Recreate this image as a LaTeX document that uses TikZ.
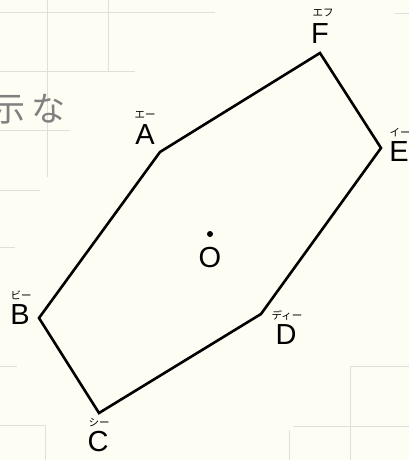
\documentclass[tikz,border=0pt]{standalone}
\usepackage{fontspec}
\setmainfont{Liberation Sans}
\newfontfamily\jpfont{Noto Sans CJK JP}
\usepackage{tikz}
\usetikzlibrary{positioning}
\definecolor{paper}{HTML}{FDFDF3}
\definecolor{guidegray}{HTML}{E0E0D8}
\definecolor{pencil}{HTML}{808080}

\begin{document}
\begin{tikzpicture}[x=1pt, y=-1pt,
        vertex/.style={font=\fontsize{29}{29}\selectfont, inner sep=0pt},
        ruby/.style={font=\jpfont\fontsize{10.5}{10.5}\selectfont, inner sep=0pt},
        edge/.style={line width=2.6pt, line join=miter},
        guide/.style={guidegray, line width=0.6pt},
        centre/.style={circle, fill=black, inner sep=0pt, minimum size=6pt}
    ]
        % Papier
        \fill[paper] (0,0) rectangle (409,460);
        \useasboundingbox (0,0) rectangle (409,460);

        % Hilfslinien
        \draw[guide] (0,12) -- (215,12);
        \draw[guide] (0,71) -- (135,71);
        \draw[guide] (0,130) -- (70,130);
        \draw[guide] (0,190) -- (40,190);
        \draw[guide] (47,0) -- (47,177);
        \draw[guide] (108,0) -- (108,72);
        \draw[guide] (395,13) -- (409,13);
        \draw[guide] (0,247) -- (15,247);
        \draw[guide] (0,366) -- (17,366);
        \draw[guide] (0,425) -- (45,425);
        \draw[guide] (45,425) -- (45,460);
        \draw[guide] (350,366) -- (409,366);
        \draw[guide] (293,426) -- (409,426);
        \draw[guide] (350,366) -- (350,460);
        \draw[guide] (289,430) -- (289,460);

        % Notiz
        \node[font=\jpfont\fontsize{34}{34}\selectfont, text=pencil, anchor=east, inner sep=0pt] (note) at (66,109) {示\kern6pt な};

        % Ecken
        \coordinate (a) at (160,152);
        \coordinate (b) at (39,318);
        \coordinate (c) at (99,413);
        \coordinate (d) at (261,314);
        \coordinate (e) at (381,148);
        \coordinate (f) at (320,53);

        % Sechseck
        \draw[edge] (a) -- (b) -- (c) -- (d) -- (e) -- (f) -- cycle;

        % Mittelpunkt
        \node[centre] (o) at (210,234) {};
        \node[vertex, below=10pt of o] (labO) {O};

        % Beschriftungen
        \node[vertex] (labA) at (145,134.5) {A};
        \node[vertex] (labB) at (20,315) {B};
        \node[vertex] (labC) at (98,442) {C};
        \node[vertex] (labD) at (286,335) {D};
        \node[vertex] (labE) at (399,152) {E};
        \node[vertex] (labF) at (320,34) {F};

        % Lesungen
        \node[ruby] (rubA) at (145,115) {エー};
        \node[ruby] (rubB) at (21,295) {ビー};
        \node[ruby] (rubC) at (99,423) {シー};
        \node[ruby] (rubD) at (287,315) {ディー};
        \node[ruby] (rubE) at (400,133) {イー};
        \node[ruby] (rubF) at (323,13) {エフ};
    \end{tikzpicture}
\end{document}
